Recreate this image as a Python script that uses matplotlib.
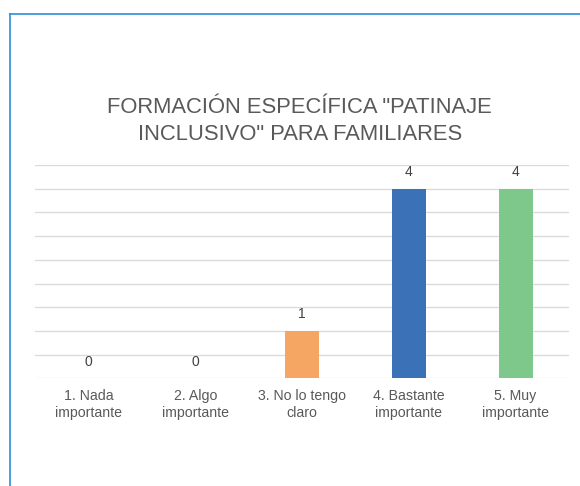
import numpy as np
import matplotlib
matplotlib.use("Agg")
import matplotlib.pyplot as plt
from matplotlib.lines import Line2D

plt.rcParams['font.family'] = ['Liberation Sans', 'DejaVu Sans']

# Data
categories = ["1. Nada\nimportante", "2. Algo\nimportante", "3. No lo tengo\nclaro",
              "4. Bastante\nimportante", "5. Muy\nimportante"]
values = [0, 0, 1, 4, 4]
colors = ["#F5A662", "#F5A662", "#F5A662", "#3B71B7", "#7EC88B"]
title = 'FORMACIÓN ESPECÍFICA "PATINAJE\nINCLUSIVO" PARA FAMILIARES'

fig = plt.figure(figsize=(5.8, 4.86), dpi=100)
ax = fig.add_axes([35 / 580, 1 - 378.3 / 486, 534 / 580, (378.3 - 165) / 486])

x = np.arange(len(categories))
ax.bar(x, values, width=0.32, color=colors, zorder=3)

for xi, v in zip(x, values):
    ax.annotate(str(v), (xi, v), xytext=(0, 7), textcoords="offset points",
                ha="center", va="bottom", fontsize=10, color="#404040")

ax.set_xlim(-0.5, len(categories) - 0.5)
ax.set_ylim(0, 4.5)
ax.set_yticks(np.arange(0, 4.51, 0.5))
ax.yaxis.grid(True, color="#D9D9D9", linewidth=0.9, zorder=0)
ax.set_yticklabels([])
ax.tick_params(axis="y", length=0)
ax.set_xticks(x)
ax.set_xticklabels(categories, fontsize=10.2, color="#595959", linespacing=1.2)
ax.tick_params(axis="x", length=0, pad=8)
for s in ["top", "right", "left", "bottom"]:
    ax.spines[s].set_visible(False)

fig.text(0.517, 1 - 121 / 486, title, ha="center", va="center",
         fontsize=15.8, color="#595959", linespacing=1.4)

# frame border (top and left edges)
bc = "#2B8FD6"
fig.add_artist(Line2D([9.5 / 580, 1], [1 - 14 / 486, 1 - 14 / 486],
                      transform=fig.transFigure, color=bc, linewidth=1.2))
fig.add_artist(Line2D([9.5 / 580, 9.5 / 580], [0, 1 - 14 / 486],
                      transform=fig.transFigure, color=bc, linewidth=1.2))

fig.savefig("out.png", dpi=100)
